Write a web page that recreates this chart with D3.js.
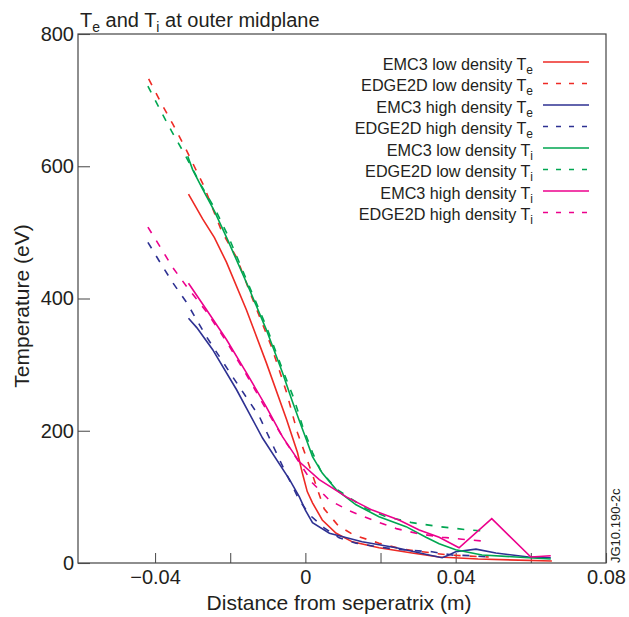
<!DOCTYPE html>
<html>
<head>
<meta charset="utf-8">
<script src="https://cdn.jsdelivr.net/npm/d3@7"></script>
<style>
  body { margin: 0; background: #fff; }
  text { font-family: "Liberation Sans", Arial, Helvetica, sans-serif; fill: #231f20; }
</style>
</head>
<body>
<svg id="chart" width="629" height="617"></svg>
<script>
// values: [distance (m), temperature (eV)]
const emc3LowTe = [[-0.0311,558],[-0.0273,520],[-0.0242,492],[-0.0210,455],[-0.0157,383],[-0.0104,303],[-0.0050,217],[-0.0021,167],[-0.0008,136],[0.0005,108],[0.0019,91],[0.0045,65],[0.0082,45],[0.0125,32],[0.0196,23],[0.0284,15],[0.0356,9],[0.0460,6],[0.0656,3]];
const edge2dLowTe = [[-0.0417,732],[-0.0385,697],[-0.0353,664],[-0.0318,626],[-0.0270,570],[-0.0223,502],[-0.0183,462],[-0.0141,400],[-0.0090,327],[-0.0050,258],[-0.0021,197],[0.0000,164],[0.0021,130],[0.0050,82],[0.0088,56],[0.0130,42],[0.0196,30],[0.0257,21],[0.0311,17],[0.0382,12],[0.0488,9]];
const emc3HighTe = [[-0.0311,370],[-0.0289,356],[-0.0247,323],[-0.0183,262],[-0.0114,189],[-0.0042,126],[-0.0016,100],[0.0000,80],[0.0019,61],[0.0064,45],[0.0151,32],[0.0242,23],[0.0329,12],[0.0364,8],[0.0382,12],[0.0400,17],[0.0454,21],[0.0507,15],[0.0594,9],[0.0653,8]];
const edge2dHighTe = [[-0.0419,485],[-0.0387,455],[-0.0353,424],[-0.0316,394],[-0.0263,342],[-0.0194,282],[-0.0122,221],[-0.0056,141],[-0.0016,95],[0.0011,73],[0.0050,53],[0.0090,38],[0.0135,30],[0.0196,24],[0.0257,20],[0.0337,17],[0.0390,12],[0.0443,11],[0.0488,9]];
const emc3LowTi = [[-0.0313,615],[-0.0300,595],[-0.0273,565],[-0.0242,532],[-0.0207,489],[-0.0149,414],[-0.0104,353],[-0.0061,288],[-0.0035,245],[-0.0016,215],[0.0003,186],[0.0019,161],[0.0045,136],[0.0082,111],[0.0135,88],[0.0196,70],[0.0268,55],[0.0321,39],[0.0356,29],[0.0400,20],[0.0470,12],[0.0594,8],[0.0653,6]];
const edge2dLowTi = [[-0.0419,721],[-0.0387,686],[-0.0356,653],[-0.0321,618],[-0.0276,570],[-0.0240,535],[-0.0205,494],[-0.0149,418],[-0.0104,358],[-0.0061,293],[-0.0030,248],[-0.0008,208],[0.0019,167],[0.0042,138],[0.0085,111],[0.0162,82],[0.0215,70],[0.0284,61],[0.0356,55],[0.0435,50],[0.0488,48]];
const emc3HighTi = [[-0.0311,423],[-0.0263,383],[-0.0210,338],[-0.0157,288],[-0.0104,236],[-0.0061,191],[-0.0016,153],[0.0037,126],[0.0109,100],[0.0178,80],[0.0249,65],[0.0303,50],[0.0356,39],[0.0409,23],[0.0496,67],[0.0600,9],[0.0653,11]];
const edge2dHighTi = [[-0.0419,508],[-0.0382,474],[-0.0353,447],[-0.0316,418],[-0.0263,380],[-0.0210,335],[-0.0157,285],[-0.0104,232],[-0.0056,186],[-0.0016,152],[0.0019,121],[0.0064,95],[0.0117,79],[0.0183,64],[0.0242,52],[0.0303,44],[0.0364,39],[0.0417,36],[0.0475,33]];

const seriesNames = ["EMC3 low density T", "EDGE2D low density T", "EMC3 high density T", "EDGE2D high density T",
                     "EMC3 low density T", "EDGE2D low density T", "EMC3 high density T", "EDGE2D high density T"];
const seriesSubs = ["e", "e", "e", "e", "i", "i", "i", "i"];
const seriesData = [emc3LowTe, edge2dLowTe, emc3HighTe, edge2dHighTe, emc3LowTi, edge2dLowTi, emc3HighTi, edge2dHighTi];
const seriesColors = ["#ee2a24", "#ee2a24", "#2e3192", "#2e3192", "#00a651", "#00a651", "#ec008c", "#ec008c"];
const seriesDashed = [false, true, false, true, false, true, false, true];

const xTicks = [-0.04, -0.02, 0, 0.02, 0.04, 0.06, 0.08];
const xLabelled = [-0.04, 0, 0.04, 0.08];
const yTicks = [0, 200, 400, 600, 800];

const svg = d3.select("#chart");
const plotLeft = 78, plotRight = 606, plotTop = 34, plotBottom = 563;

const x = d3.scaleLinear().domain([-0.0605, 0.08]).range([plotLeft, plotRight]);
const y = d3.scaleLinear().domain([0, 800]).range([plotBottom, plotTop]);

const fmtX = d => d === 0 ? "0" : d3.format(".2f")(d);

// axes, ticks point inward
const xAxis = svg.append("g")
  .attr("transform", `translate(0,${plotBottom})`)
  .call(d3.axisBottom(x).tickValues(xTicks).tickSize(-10).tickPadding(7)
    .tickFormat(d => xLabelled.includes(d) ? fmtX(d) : ""));
const yAxis = svg.append("g")
  .attr("transform", `translate(${plotLeft},0)`)
  .call(d3.axisLeft(y).tickValues(yTicks).tickSize(-12).tickPadding(4).tickFormat(d3.format("d")));

[xAxis, yAxis].forEach(g => {
  g.select(".domain").remove();
  g.selectAll(".tick line").attr("stroke", "#555").attr("stroke-width", 1.1);
  g.selectAll(".tick text").attr("font-size", 20).attr("fill", "#231f20")
    .style("font-family", "'Liberation Sans', Arial, sans-serif");
});

svg.append("rect")
  .attr("x", plotLeft).attr("y", plotTop)
  .attr("width", plotRight - plotLeft).attr("height", plotBottom - plotTop)
  .attr("fill", "none").attr("stroke", "#444").attr("stroke-width", 1.2);

const line = d3.line().x(d => x(d[0])).y(d => y(d[1]));

svg.append("g").selectAll("path")
  .data(seriesData)
  .join("path")
  .attr("d", line)
  .attr("fill", "none")
  .attr("stroke", (d, i) => seriesColors[i])
  .attr("stroke-width", 1.6)
  .attr("stroke-dasharray", (d, i) => seriesDashed[i] ? "7,9" : null);

// legend
const legend = svg.append("g");
seriesNames.forEach((name, i) => {
  const ly = 62 + i * 21.5;
  legend.append("line")
    .attr("x1", 543).attr("x2", 589).attr("y1", ly).attr("y2", ly)
    .attr("stroke", seriesColors[i]).attr("stroke-width", 1.6)
    .attr("stroke-dasharray", seriesDashed[i] ? "5,8" : null);
  const t = legend.append("text")
    .attr("x", 533).attr("y", ly + 7.5)
    .attr("text-anchor", "end").attr("font-size", 16.2);
  t.append("tspan").text(name);
  t.append("tspan").attr("dy", 4).attr("font-size", 12).text(seriesSubs[i]);
});

// title
const title = svg.append("text").attr("x", 80).attr("y", 26.5).attr("font-size", 20);
title.append("tspan").text("T");
title.append("tspan").attr("dy", 5).attr("font-size", 14).text("e");
title.append("tspan").attr("dy", -5).text(" and T");
title.append("tspan").attr("dy", 5).attr("font-size", 14).text("i");
title.append("tspan").attr("dy", -5).text(" at outer midplane");

svg.append("text")
  .attr("transform", "translate(28.5,306) rotate(-90)")
  .attr("text-anchor", "middle").attr("font-size", 21)
  .text("Temperature (eV)");

svg.append("text")
  .attr("x", 339).attr("y", 610)
  .attr("text-anchor", "middle").attr("font-size", 21)
  .text("Distance from seperatrix (m)");

svg.append("text")
  .attr("transform", "translate(620,563) rotate(-90)")
  .attr("font-size", 13)
  .text("JG10.190-2c");
</script>
</body>
</html>
